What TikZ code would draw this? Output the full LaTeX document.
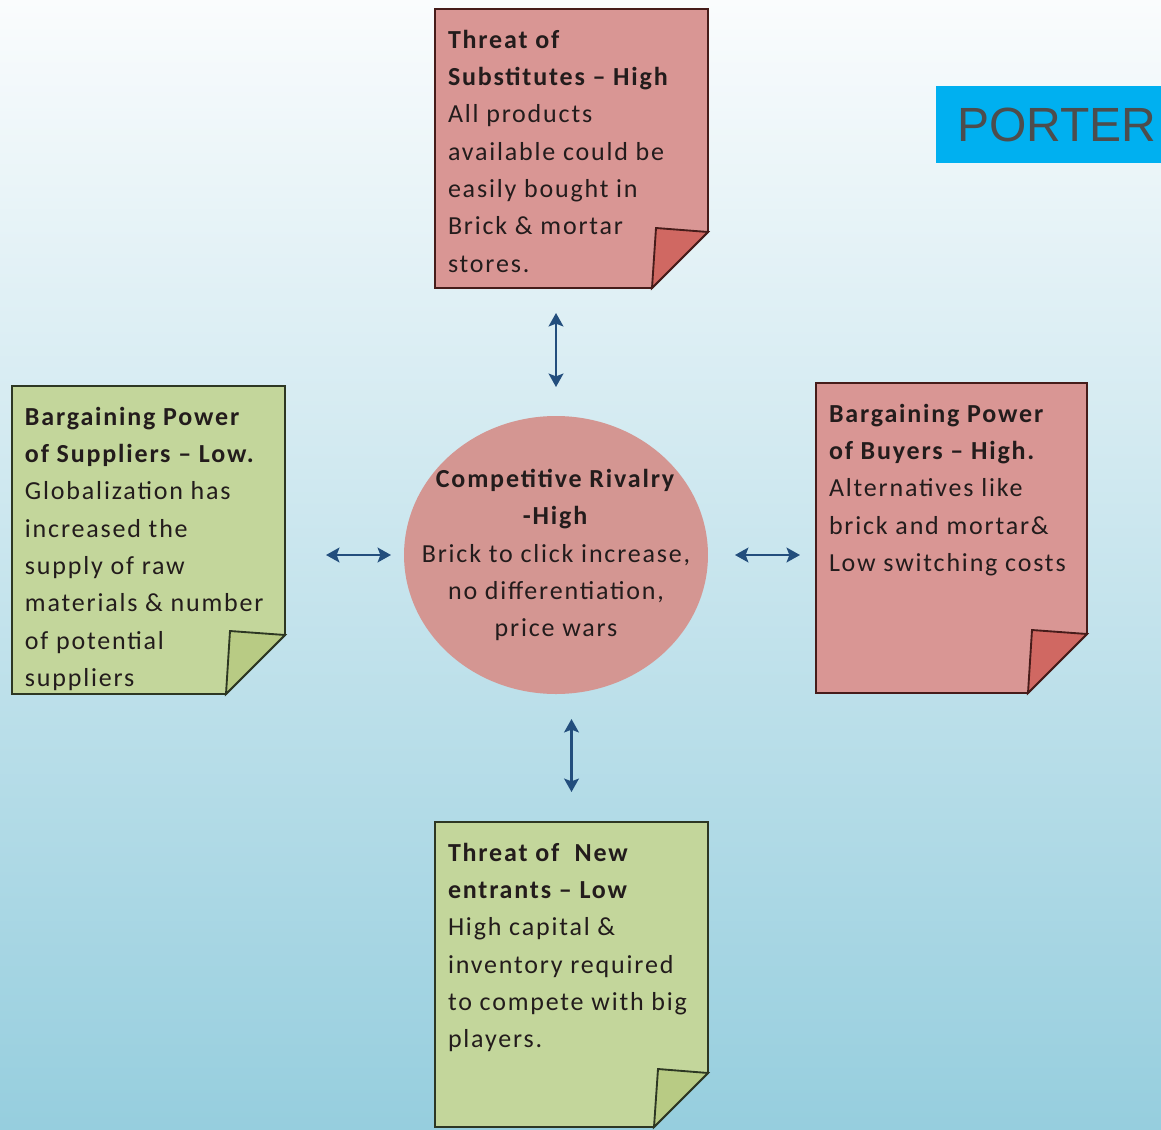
\documentclass[tikz,border=0pt]{standalone}
\usepackage{fontspec}
\setmainfont{Carlito}[LetterSpace=7]
\newfontfamily\porterfont{Liberation Sans}
\usepackage{tikz}
\usetikzlibrary{arrows.meta}
\usetikzlibrary{backgrounds}
\usetikzlibrary{calc}
\usetikzlibrary{shapes.geometric}

\definecolor{bgtop}{RGB}{250, 252, 253}
\definecolor{bgbottom}{RGB}{150, 206, 222}
\definecolor{redpaper}{RGB}{217, 150, 148}
\definecolor{redfold}{RGB}{208, 104, 98}
\definecolor{redline}{RGB}{70, 28, 26}
\definecolor{greenpaper}{RGB}{195, 214, 155}
\definecolor{greenfold}{RGB}{184, 203, 132}
\definecolor{greenline}{RGB}{45, 55, 35}
\definecolor{rivalfill}{RGB}{212, 150, 146}
\definecolor{ink}{RGB}{35, 28, 28}
\definecolor{arrowblue}{RGB}{35, 78, 125}
\definecolor{porterblue}{RGB}{0, 176, 240}
\definecolor{portertext}{RGB}{77, 77, 77}

\newcommand{\notefont}{\fontsize{19.5pt}{28pt}\selectfont}

\begin{document}
\begin{tikzpicture}[
      x=0.75pt, y=-0.75pt,
      note/.style={anchor=north west, inner xsep=9.75pt, inner ysep=15.75pt,
                   outer sep=0pt, font=\notefont, text=ink},
      hub/.style={ellipse, fill=rivalfill, minimum width=225pt,
                  minimum height=208.5pt, inner xsep=-20pt, inner ysep=0pt,
                  outer sep=0pt, align=center, font=\notefont, text=ink},
      banner/.style={anchor=north west, fill=porterblue, minimum height=57.75pt,
                     text width=137.25pt, inner xsep=15.75pt, align=left,
                     font=\porterfont\fontsize{36pt}{40pt}\selectfont,
                     text=portertext},
      link/.style={<->, >={Stealth[length=10pt, width=11pt, inset=2pt]},
                   arrowblue, line width=2.2pt},
      paper/.style={line width=1.4pt, line join=miter}
    ]
      \useasboundingbox (0,0) rectangle (1161,1129);

      \node [hub] (rivalry) at (556,555)
            {\textbf{Competitive Rivalry}\\\textbf{-High}\\Brick to click increase,\\
             no differentiation,\\price wars};

      \node [note] (subst) at (435,9)
            {\parbox[t][177.75pt][t]{185.25pt}{\raggedright
             \textbf{Threat of}\\\textbf{Substitutes -- High}\\All products\\
             available could be\\easily bought in\\Brick \& mortar\\stores.}};
      \node [note] (suppliers) at (12,386)
            {\parbox[t][199.5pt][t]{185.25pt}{\raggedright
             \textbf{Bargaining Power}\\\textbf{of Suppliers -- Low.}\\
             Globalization has\\increased the\\supply of raw\\
             materials \& number\\of potential\\suppliers}};
      \node [note] (buyers) at (816,383)
            {\parbox[t][201pt][t]{183.75pt}{\raggedright
             \textbf{Bargaining Power}\\\textbf{of Buyers -- High.}\\
             Alternatives like\\brick and mortar\&\\Low switching costs}};
      \node [note] (entrants) at (435,822)
            {\parbox[t][197.25pt][t]{185.25pt}{\raggedright
             \textbf{Threat of~~New}\\\textbf{entrants -- Low}\\High capital \&\\
             inventory required\\to compete with big\\players.}};

      \node [banner] (porter) at (936,86) {PORTER};

      % the sheets with their turned-up corners
      \begin{scope}[on background layer]
        \fill [top color=bgtop, bottom color=bgbottom] (0,0) rectangle (1161,1129);
        \foreach \n/\c/\k/\l/\f in {subst/redpaper/redfold/redline/56,
                                    suppliers/greenpaper/greenfold/greenline/59,
                                    buyers/redpaper/redfold/redline/59,
                                    entrants/greenpaper/greenfold/greenline/54}{
          \draw [paper, draw=\l, fill=\c] (\n.north west) -- (\n.north east)
                -- ([shift={(0,-\f)}]\n.south east)
                -- ([shift={(-\f,0)}]\n.south east)
                -- (\n.south west) -- cycle;
          \draw [paper, draw=\l, fill=\k] ([shift={(-\f,0)}]\n.south east)
                -- ([shift={(-\f+4,-\f-4)}]\n.south east)
                -- ([shift={(0,-\f)}]\n.south east) -- cycle;
        }
      \end{scope}

      \draw [link, shorten <=21.75pt, shorten >=18.75pt]
            (rivalry.north) -- (rivalry.north |- subst.south);
      \draw [link, shorten <=22.5pt, shorten >=18.75pt]
            (entrants.north) -- (entrants.north |- rivalry.south);
      \draw [link, shorten <=9.75pt, shorten >=30.75pt]
            (rivalry.west) -- (rivalry.west -| suppliers.east);
      \draw [link, shorten <=20.25pt, shorten >=12pt]
            (rivalry.east) -- (rivalry.east -| buyers.west);
    \end{tikzpicture}
\end{document}
